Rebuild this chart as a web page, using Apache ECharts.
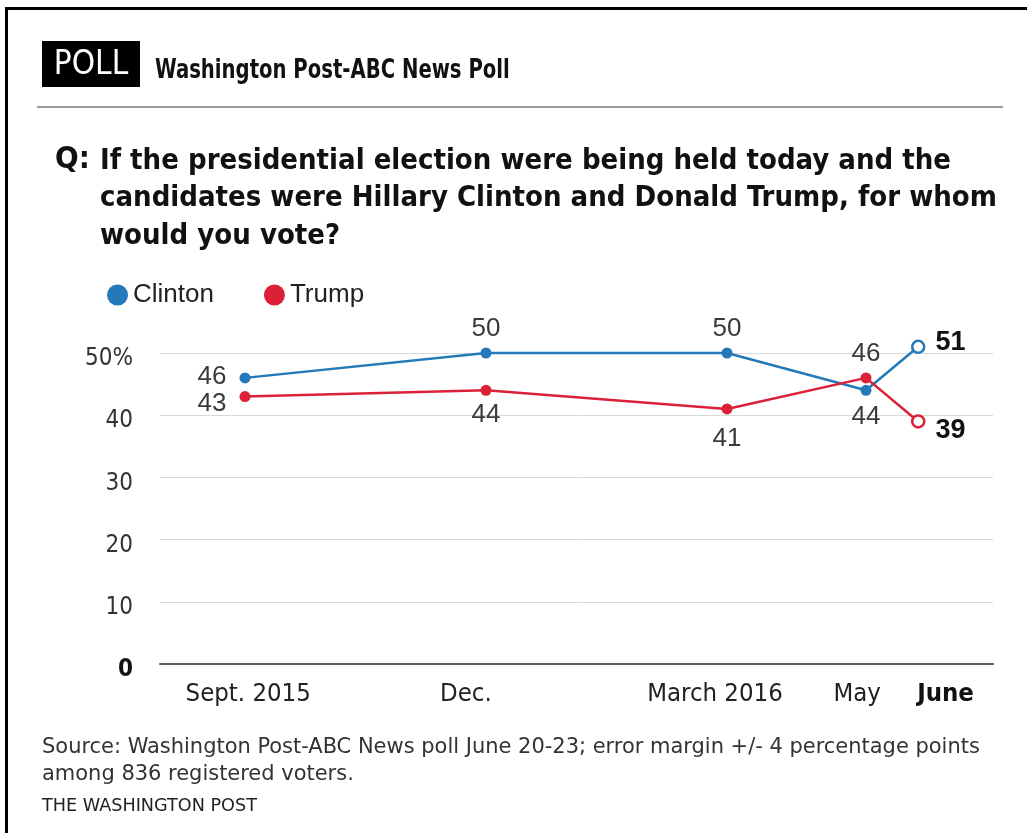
<!DOCTYPE html>
<html>
<head>
<meta charset="utf-8">
<script src="https://cdn.jsdelivr.net/npm/echarts@6/dist/echarts.min.js"></script>
<style>
html,body{margin:0;padding:0;background:#fff;}
#chart{width:1027px;height:833px;}
</style>
</head>
<body>
<div id="chart"></div>
<script>
// ---- data ----
var pollNames = ['Sept. 2015', 'Dec.', 'March 2016', 'May', 'June'];
// relative position of each poll along the time axis (months after Sept. 2015, as spaced in the graphic)
var pollPositions = [0, 3, 6, 7.73, 8.38];
// where the x tick labels sit along the same axis
var tickLabelPositions = [0.04, 2.75, 5.85, 7.62, 8.72];
var tickLabels = ['Sept. 2015', 'Dec.', 'March 2016', 'May', 'June'];
var clinton = [46, 50, 50, 44, 51];
var trump = [43, 44, 41, 46, 39];
var yTicks = [0, 10, 20, 30, 40, 50];

var titleText = 'Washington Post-ABC News Poll';
var questionLines = [
  'If the presidential election were being held today and the',
  'candidates were Hillary Clinton and Donald Trump, for whom',
  'would you vote?'
];
var sourceLines = [
  'Source: Washington Post-ABC News poll June 20-23; error margin +/- 4 percentage points',
  'among 836 registered voters.'
];
var creditText = 'THE WASHINGTON POST';

// ---- styling ----
var NARROW = "'DejaVu Sans Condensed','Liberation Sans Narrow','Arial Narrow',sans-serif";
var SANS = "'Liberation Sans',Arial,sans-serif";
var BLUE = '#2479b8';
var RED = '#db2038';

var clintonLabel = [
  {position: 'left', offset: [0, -1], distance: 13},
  {position: 'top'},
  {position: 'top'},
  {position: 'bottom', offset: [0, 2]},
  {position: 'right', offset: [0, -4], distance: 10, bold: true}
];
var trumpLabel = [
  {position: 'left', offset: [0, 7], distance: 13},
  {position: 'bottom', offset: [0, 0]},
  {position: 'bottom', offset: [0, 5]},
  {position: 'top', offset: [0, 0]},
  {position: 'right', offset: [0, 9], distance: 10, bold: true}
];

function buildData(vals, labelCfg, color) {
  return vals.map(function (v, i) {
    var last = i === vals.length - 1;
    var cfg = labelCfg[i];
    var item = {
      value: [pollPositions[i], v],
      label: {
        show: true,
        position: cfg.position,
        distance: cfg.distance || 6,
        offset: cfg.offset || [0, 0],
        fontFamily: SANS,
        fontSize: cfg.bold ? 27 : 26,
        fontWeight: cfg.bold ? 'bold' : 'normal',
        color: cfg.bold ? '#111' : '#3a3a3a'
      }
    };
    if (last) {
      item.itemStyle = {color: '#fff', borderColor: color, borderWidth: 2.5};
      item.symbolSize = 12;
    }
    return item;
  });
}

var chart = echarts.init(document.getElementById('chart'), null, {renderer: 'canvas'});

var graphics = [
  // frame lines (top & left)
  {type: 'rect', shape: {x: 5, y: 7, width: 1022, height: 3}, style: {fill: '#000'}},
  {type: 'rect', shape: {x: 5, y: 7, width: 3, height: 826}, style: {fill: '#000'}},
  // POLL tag
  {type: 'rect', shape: {x: 42, y: 41, width: 98, height: 46}, style: {fill: '#000'}},
  {type: 'text', x: 91, y: 65, style: {text: 'POLL', fill: '#fff', font: 'normal 33px ' + NARROW, textAlign: 'center', textVerticalAlign: 'middle'}},
  {type: 'text', x: 155, y: 71, scaleX: 0.84, style: {text: titleText, fill: '#111', font: 'bold 26px ' + NARROW, textVerticalAlign: 'middle'}},
  {type: 'rect', shape: {x: 37, y: 106, width: 966, height: 2}, style: {fill: '#9a9a9a'}},
  {type: 'text', x: 55, y: 160, style: {text: 'Q:', fill: '#111', font: 'bold 31px ' + NARROW, textVerticalAlign: 'middle'}}
];
questionLines.forEach(function (t, i) {
  graphics.push({type: 'text', x: 100, y: 161 + i * 37.5, style: {text: t, fill: '#111', font: 'bold 29px ' + NARROW, textVerticalAlign: 'middle'}});
});
sourceLines.forEach(function (t, i) {
  graphics.push({type: 'text', x: 42, y: 748 + i * 27, scaleX: 1.11, style: {text: t, fill: '#333', font: 'normal 21px ' + NARROW, textVerticalAlign: 'middle'}});
});
graphics.push({type: 'text', x: 42, y: 806, scaleX: 1.12, style: {text: creditText, fill: '#222', font: 'normal 17.5px ' + NARROW, textVerticalAlign: 'middle'}});

var option = {
  animation: false,
  backgroundColor: '#fff',
  color: [BLUE, RED],
  graphic: graphics,
  legend: {
    left: 102, top: 277,
    icon: 'circle', itemWidth: 21, itemHeight: 21, itemGap: 50,
    textStyle: {fontFamily: SANS, fontSize: 26, color: '#222', padding: [0, 0, 0, 0]},
    data: ['Clinton', 'Trump']
  },
  grid: {left: 160, right: 34, top: 353, bottom: 169, containLabel: false},
  xAxis: {
    type: 'value',
    min: -1.058, max: 9.311,
    splitLine: {show: false},
    axisTick: {show: false},
    axisLine: {show: true, lineStyle: {color: '#5a5a5a', width: 2}},
    axisLabel: {
      customValues: tickLabelPositions,
      margin: 17,
      fontFamily: NARROW, fontSize: 25.5, color: '#222',
      formatter: function (v) {
        var idx = 0, best = Infinity;
        tickLabelPositions.forEach(function (p, i) { var d = Math.abs(p - v); if (d < best) { best = d; idx = i; } });
        return idx === tickLabels.length - 1 ? '{b|' + tickLabels[idx] + '}' : tickLabels[idx];
      },
      rich: {b: {fontFamily: NARROW, fontSize: 25.5, fontWeight: 'bold', color: '#111'}}
    }
  },
  yAxis: {
    type: 'value',
    min: 0, max: 50, interval: 10,
    axisLine: {show: false},
    axisTick: {show: false},
    splitLine: {lineStyle: {color: '#d9d9d9', width: 1}},
    axisLabel: {
      margin: 27,
      fontFamily: NARROW, fontSize: 24, color: '#333',
      padding: [12, 0, 0, 0],
      formatter: function (v) {
        if (v === yTicks[0]) return '{z|' + v + '}';
        if (v === yTicks[yTicks.length - 1]) return v + '%';
        return String(v);
      },
      rich: {z: {fontFamily: NARROW, fontSize: 24, fontWeight: 'bold', color: '#111'}}
    }
  },
  series: [
    {
      name: 'Clinton', type: 'line', clip: false,
      symbol: 'circle', symbolSize: 11,
      lineStyle: {width: 2.5, color: BLUE},
      itemStyle: {color: BLUE},
      data: buildData(clinton, clintonLabel, BLUE),
      z: 3
    },
    {
      name: 'Trump', type: 'line', clip: false,
      symbol: 'circle', symbolSize: 11,
      lineStyle: {width: 2.5, color: RED},
      itemStyle: {color: RED},
      data: buildData(trump, trumpLabel, RED),
      z: 4
    }
  ]
};
chart.setOption(option);
</script>
</body>
</html>
